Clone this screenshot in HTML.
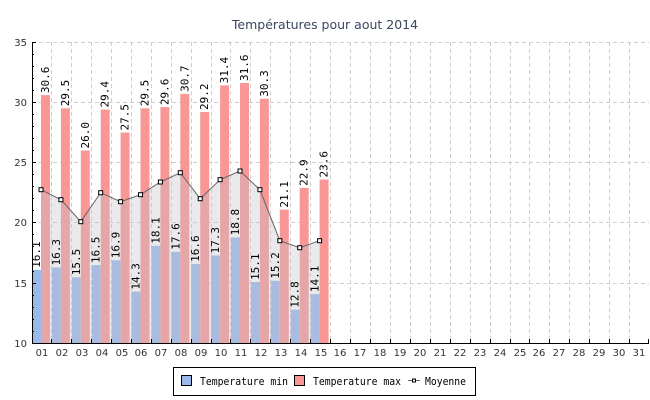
<!DOCTYPE html>
<html><head><meta charset="utf-8"><style>
html,body{margin:0;padding:0;background:#fff;}
svg{display:block;}
.t{font-family:"DejaVu Sans Mono","Liberation Mono",monospace;font-size:11px;fill:#000;}
.lg{font-family:"DejaVu Sans Mono","Liberation Mono",monospace;font-size:11px;fill:#000;}
.ax{font-family:"DejaVu Sans","Liberation Sans",sans-serif;font-size:10px;fill:#333;}
</style></head><body>
<svg width="650" height="400" viewBox="0 0 650 400" xmlns="http://www.w3.org/2000/svg">
<rect width="650" height="400" fill="#fff"/>
<text x="325" y="29" text-anchor="middle" font-family="DejaVu Sans, Liberation Sans, sans-serif" font-size="12.5" fill="#3a4560">Températures pour aout 2014</text>
<g stroke="#cfcfcf" stroke-width="1" stroke-dasharray="4,3" fill="none">
<path d="M32 42.5H649M32 102.5H649M32 162.5H649M32 222.5H649M32 283.5H649"/>
<path d="M51.5 42V343M71.5 42V343M91.5 42V343M111.5 42V343M131.5 42V343M151.5 42V343M171.5 42V343M191.5 42V343M211.5 42V343M230.5 42V343M250.5 42V343M270.5 42V343M290.5 42V343M310.5 42V343M330.5 42V343M350.5 42V343M370.5 42V343M390.5 42V343M410.5 42V343M430.5 42V343M450.5 42V343M470.5 42V343M490.5 42V343M510.5 42V343M529.5 42V343M549.5 42V343M569.5 42V343M589.5 42V343M609.5 42V343M629.5 42V343"/>
</g>
<g fill="#9cb9ec">
<rect x="32" y="269.9" width="9" height="73.6"/><rect x="51.9" y="267.5" width="9" height="76"/><rect x="71.8" y="277.2" width="9" height="66.3"/><rect x="91.7" y="265.1" width="9" height="78.4"/><rect x="111.6" y="260.3" width="9" height="83.2"/><rect x="131.5" y="291.6" width="9" height="51.9"/><rect x="151.4" y="245.8" width="9" height="97.7"/><rect x="171.3" y="251.8" width="9" height="91.7"/><rect x="191.2" y="263.9" width="9" height="79.6"/><rect x="211.1" y="255.5" width="9" height="88"/><rect x="231" y="237.4" width="9" height="106.1"/><rect x="250.9" y="282" width="9" height="61.5"/><rect x="270.8" y="280.8" width="9" height="62.7"/><rect x="290.7" y="309.7" width="9" height="33.8"/><rect x="310.6" y="294.1" width="9" height="49.4"/>
</g>
<g fill="#f99797">
<rect x="41" y="95.1" width="9" height="248.4"/><rect x="60.9" y="108.3" width="9" height="235.2"/><rect x="80.8" y="150.5" width="9" height="193"/><rect x="100.7" y="109.5" width="9" height="234"/><rect x="120.6" y="132.5" width="9" height="211"/><rect x="140.5" y="108.3" width="9" height="235.2"/><rect x="160.4" y="107.1" width="9" height="236.4"/><rect x="180.3" y="93.9" width="9" height="249.6"/><rect x="200.2" y="112" width="9" height="231.5"/><rect x="220.1" y="85.4" width="9" height="258.1"/><rect x="240" y="83" width="9" height="260.5"/><rect x="259.9" y="98.7" width="9" height="244.8"/><rect x="279.8" y="209.6" width="9" height="133.9"/><rect x="299.7" y="187.9" width="9" height="155.6"/><rect x="319.6" y="179.5" width="9" height="164"/>
</g>
<polygon fill="rgba(195,195,200,0.35)" points="41,343.5 41,189.7 60.9,199.7 80.8,221.7 100.7,192.7 120.6,201.7 140.5,194.7 160.4,182 180.3,172.7 200.2,198.7 220.1,179.7 240,171 259.9,189.7 279.8,240.7 299.7,247.7 319.6,240.7 319.6,343.5"/>
<polyline fill="none" stroke="#666" stroke-width="1" points="41,189.7 60.9,199.7 80.8,221.7 100.7,192.7 120.6,201.7 140.5,194.7 160.4,182 180.3,172.7 200.2,198.7 220.1,179.7 240,171 259.9,189.7 279.8,240.7 299.7,247.7 319.6,240.7"/>
<g fill="#fff" stroke="#000" stroke-width="1">
<rect x="39" y="187.7" width="4" height="4"/><rect x="58.9" y="197.7" width="4" height="4"/><rect x="78.8" y="219.7" width="4" height="4"/><rect x="98.7" y="190.7" width="4" height="4"/><rect x="118.6" y="199.7" width="4" height="4"/><rect x="138.5" y="192.7" width="4" height="4"/><rect x="158.4" y="180" width="4" height="4"/><rect x="178.3" y="170.7" width="4" height="4"/><rect x="198.2" y="196.7" width="4" height="4"/><rect x="218.1" y="177.7" width="4" height="4"/><rect x="238" y="169" width="4" height="4"/><rect x="257.9" y="187.7" width="4" height="4"/><rect x="277.8" y="238.7" width="4" height="4"/><rect x="297.7" y="245.7" width="4" height="4"/><rect x="317.6" y="238.7" width="4" height="4"/>
</g>
<g class="t">
<text transform="translate(40,267.9) rotate(-90)">16.1</text>
<text transform="translate(59.9,265.5) rotate(-90)">16.3</text>
<text transform="translate(79.8,275.2) rotate(-90)">15.5</text>
<text transform="translate(99.7,263.1) rotate(-90)">16.5</text>
<text transform="translate(119.6,258.3) rotate(-90)">16.9</text>
<text transform="translate(139.5,289.6) rotate(-90)">14.3</text>
<text transform="translate(159.4,243.8) rotate(-90)">18.1</text>
<text transform="translate(179.3,249.8) rotate(-90)">17.6</text>
<text transform="translate(199.2,261.9) rotate(-90)">16.6</text>
<text transform="translate(219.1,253.5) rotate(-90)">17.3</text>
<text transform="translate(239,235.4) rotate(-90)">18.8</text>
<text transform="translate(258.9,280) rotate(-90)">15.1</text>
<text transform="translate(278.8,278.8) rotate(-90)">15.2</text>
<text transform="translate(298.7,307.7) rotate(-90)">12.8</text>
<text transform="translate(318.6,292.1) rotate(-90)">14.1</text>
<text transform="translate(49,93.1) rotate(-90)">30.6</text>
<text transform="translate(68.9,106.3) rotate(-90)">29.5</text>
<text transform="translate(88.8,148.5) rotate(-90)">26.0</text>
<text transform="translate(108.7,107.5) rotate(-90)">29.4</text>
<text transform="translate(128.6,130.5) rotate(-90)">27.5</text>
<text transform="translate(148.5,106.3) rotate(-90)">29.5</text>
<text transform="translate(168.4,105.1) rotate(-90)">29.6</text>
<text transform="translate(188.3,91.9) rotate(-90)">30.7</text>
<text transform="translate(208.2,110) rotate(-90)">29.2</text>
<text transform="translate(228.1,83.4) rotate(-90)">31.4</text>
<text transform="translate(248,81) rotate(-90)">31.6</text>
<text transform="translate(267.9,96.7) rotate(-90)">30.3</text>
<text transform="translate(287.8,207.6) rotate(-90)">21.1</text>
<text transform="translate(307.7,185.9) rotate(-90)">22.9</text>
<text transform="translate(327.6,177.5) rotate(-90)">23.6</text>
</g>
<g stroke="#000" stroke-width="1" fill="none">
<path d="M32.5 42V344M32 343.5H649"/>
<path d="M32 42.5h4M32 102.5h4M32 162.5h4M32 222.5h4M32 283.5h4"/>
<path d="M32 54.5h2M32 66.5h2M32 78.5h2M32 90.5h2M32 114.5h2M32 126.5h2M32 138.5h2M32 150.5h2M32 174.5h2M32 186.5h2M32 198.5h2M32 210.5h2M32 234.5h2M32 246.5h2M32 259.5h2M32 271.5h2M32 295.5h2M32 307.5h2M32 319.5h2M32 331.5h2"/>
<path d="M51.5 339V343M71.5 339V343M91.5 339V343M111.5 339V343M131.5 339V343M151.5 339V343M171.5 339V343M191.5 339V343M211.5 339V343M230.5 339V343M250.5 339V343M270.5 339V343M290.5 339V343M310.5 339V343M330.5 339V343M350.5 339V343M370.5 339V343M390.5 339V343M410.5 339V343M430.5 339V343M450.5 339V343M470.5 339V343M490.5 339V343M510.5 339V343M529.5 339V343M549.5 339V343M569.5 339V343M589.5 339V343M609.5 339V343M629.5 339V343M648.5 339V343"/>
</g>
<g class="ax" text-anchor="end">
<text x="27" y="46">35</text><text x="27" y="106">30</text><text x="27" y="166">25</text><text x="27" y="226">20</text><text x="27" y="287">15</text><text x="27" y="347">10</text>
</g>
<g class="ax" text-anchor="middle">
<text x="42" y="356">01</text><text x="62" y="356">02</text><text x="82" y="356">03</text><text x="102" y="356">04</text><text x="122" y="356">05</text><text x="141" y="356">06</text><text x="161" y="356">07</text><text x="181" y="356">08</text><text x="201" y="356">09</text><text x="221" y="356">10</text><text x="241" y="356">11</text><text x="261" y="356">12</text><text x="281" y="356">13</text><text x="301" y="356">14</text><text x="321" y="356">15</text><text x="340" y="356">16</text><text x="360" y="356">17</text><text x="380" y="356">18</text><text x="400" y="356">19</text><text x="420" y="356">20</text><text x="440" y="356">21</text><text x="460" y="356">22</text><text x="480" y="356">23</text><text x="500" y="356">24</text><text x="520" y="356">25</text><text x="539" y="356">26</text><text x="559" y="356">27</text><text x="579" y="356">28</text><text x="599" y="356">29</text><text x="619" y="356">30</text><text x="639" y="356">31</text>
</g>
<rect x="173.5" y="367.5" width="302" height="28" fill="#fff" stroke="#000"/>
<rect x="181.5" y="375.5" width="10" height="10" fill="#9cb9ec" stroke="#000"/>
<text x="200" y="385" class="lg" textLength="88" lengthAdjust="spacingAndGlyphs">Temperature min</text>
<rect x="294.5" y="375.5" width="10" height="10" fill="#f99797" stroke="#000"/>
<text x="313" y="385" class="lg" textLength="88" lengthAdjust="spacingAndGlyphs">Temperature max</text>
<path d="M408 380.5h12" stroke="#666"/>
<rect x="412.5" y="379" width="3" height="3" fill="#fff" stroke="#000"/>
<text x="425" y="385" class="lg" textLength="41" lengthAdjust="spacingAndGlyphs">Moyenne</text>
</svg>
</body></html>
